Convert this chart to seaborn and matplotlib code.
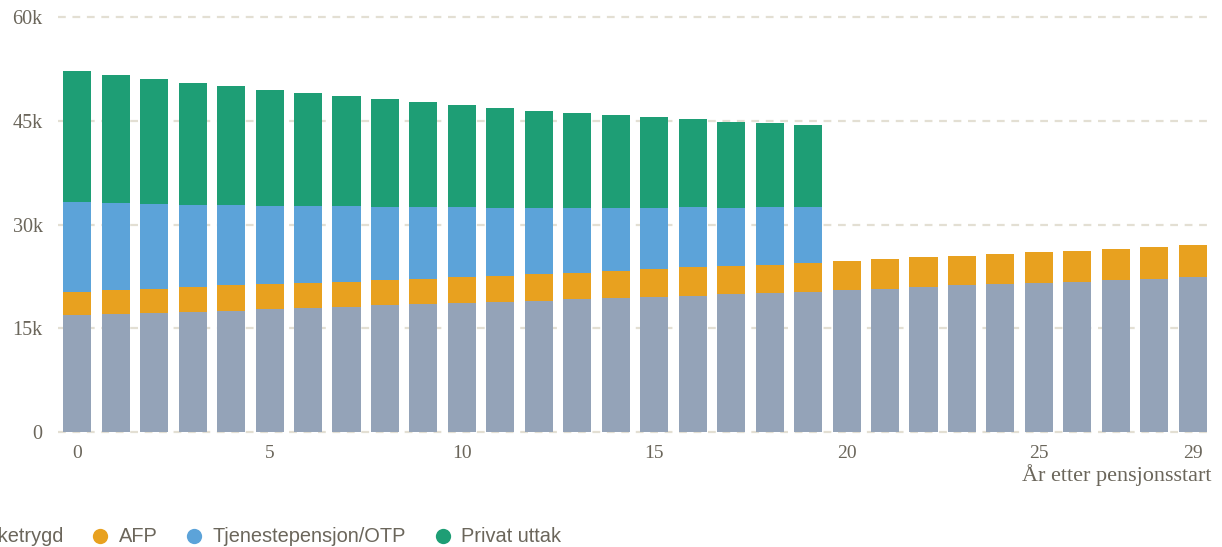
import numpy as np
import pandas as pd
import seaborn as sns
import matplotlib.pyplot as plt
from matplotlib.lines import Line2D

# years after retirement start
years = list(range(30))

# monthly amounts (kr) per source
folketrygd = [16900, 17100, 17200, 17400, 17500, 17800, 18000, 18100, 18300, 18500,
              18600, 18800, 18900, 19200, 19400, 19500, 19700, 20000, 20100, 20300,
              20600, 20700, 21000, 21200, 21400, 21500, 21700, 22000, 22100, 22400]
afp = [3400, 3500, 3500, 3600, 3700, 3600, 3500, 3600, 3700, 3600,
       3800, 3800, 4000, 3800, 3900, 4100, 4100, 4000, 4000, 4100,
       4100, 4300, 4300, 4200, 4300, 4500, 4500, 4500, 4600, 4600]
otp = [12950, 12500, 12300, 11800, 11600, 11300, 11200, 11000, 10500, 10400,
       10100, 9800, 9500, 9400, 9100, 8800, 8700, 8400, 8400, 8100,
       0, 0, 0, 0, 0, 0, 0, 0, 0, 0]
privat = [18950, 18500, 18000, 17700, 17200, 16700, 16300, 15900, 15700, 15200,
          14800, 14400, 14000, 13700, 13400, 13100, 12800, 12400, 12200, 11900,
          0, 0, 0, 0, 0, 0, 0, 0, 0, 0]

series_names = ['Folketrygd', 'AFP', 'Tjenestepensjon/OTP', 'Privat uttak']
colors = ['#94a3b8', '#e8a11f', '#5ca3d9', '#1e9e75']

xtick_vals = [0, 5, 10, 15, 20, 25, 29]
ytick_vals = [0, 15000, 30000, 45000, 60000]
ytick_labels = ['0', '15k', '30k', '45k', '60k']

df = pd.DataFrame({'year': years, 'Folketrygd': folketrygd, 'AFP': afp,
                   'Tjenestepensjon/OTP': otp, 'Privat uttak': privat})
cum = df[series_names].cumsum(axis=1)

text_col = '#6b665b'

sns.set_style('white')
fig = plt.figure(figsize=(12.22, 5.47), dpi=100)
ax = fig.add_axes([58 / 1222, 0.2038, 1154 / 1222, 0.7777])

# draw cumulative totals, tallest first, so each layer sits on the one below
for name, col in reversed(list(zip(series_names, colors))):
    sns.barplot(x=df['year'], y=cum[name], color=col, saturation=1, width=0.73,
                linewidth=0, errorbar=None, ax=ax)

ax.set_xlim(-0.5, 29.5)
ax.set_ylim(-500, 61000)
ax.set_axisbelow(True)
ax.yaxis.grid(True, color='#e3dfd3', linewidth=1.6, linestyle=(0, (3.5, 3)))
ax.xaxis.grid(False)
for s in ax.spines.values():
    s.set_visible(False)

ax.set_yticks(ytick_vals)
ax.set_yticklabels(ytick_labels)
ax.set_xticks(xtick_vals)
ax.set_xticklabels([str(v) for v in xtick_vals])
ax.tick_params(axis='both', length=0, labelcolor=text_col, labelsize=14)
ax.tick_params(axis='y', labelsize=14.5, pad=11)
ax.tick_params(axis='x', pad=7)
for lab in ax.get_xticklabels() + ax.get_yticklabels():
    lab.set_family('Liberation Serif')

ax.set_ylabel('')
ax.set_xlabel('År etter pensjonsstart', loc='right', fontsize=16,
              family='Liberation Serif', color=text_col, labelpad=1)

handles = [Line2D([], [], marker='o', linestyle='none', markersize=11,
                  markerfacecolor=c, markeredgewidth=0) for c in colors]
fig.legend(handles, series_names, loc='center left',
           bbox_to_anchor=(-58 / 1222, 10 / 547), ncol=4, frameon=False,
           prop={'family': 'Liberation Sans', 'size': 14.4}, labelcolor=text_col,
           handlelength=1.0, handletextpad=0.42, columnspacing=1.33,
           borderpad=0, borderaxespad=0)

fig.savefig('out.png', dpi=100)
